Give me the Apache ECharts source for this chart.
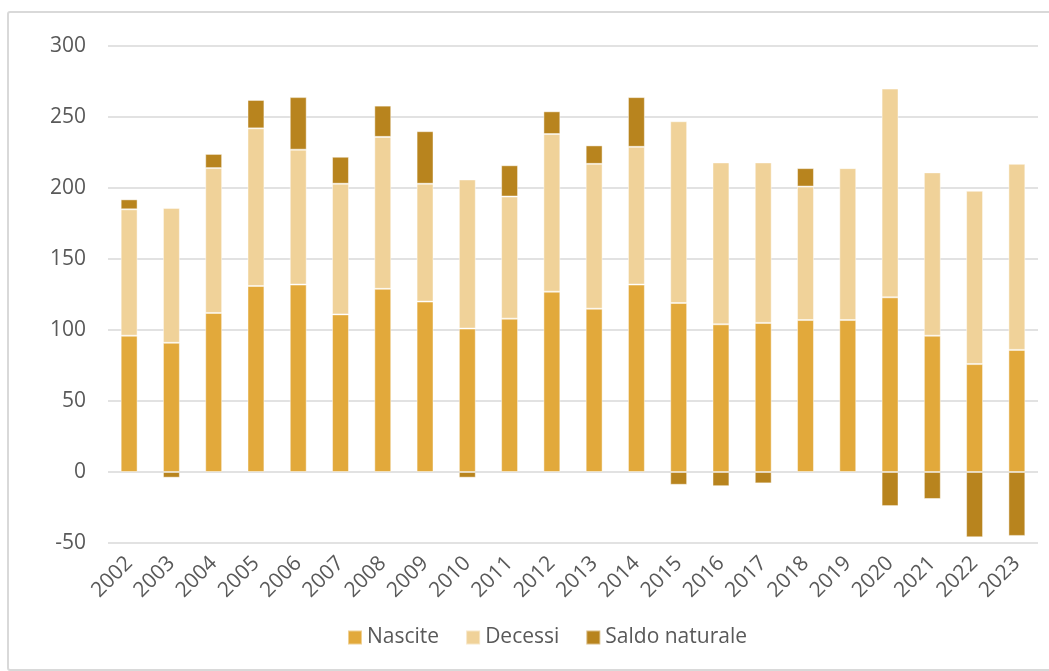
<!DOCTYPE html>
<html>
<head>
<meta charset="utf-8">
<script src="https://cdn.jsdelivr.net/npm/echarts@6/dist/echarts.min.js"></script>
<style>
html,body{margin:0;padding:0;background:#fff;}
#chart{width:1049px;height:671px;}
</style>
</head>
<body>
<div id="chart"></div>
<script>
const years = ['2002','2003','2004','2005','2006','2007','2008','2009','2010','2011','2012','2013','2014','2015','2016','2017','2018','2019','2020','2021','2022','2023'];
const nascite = [96, 91, 112, 131, 132, 111, 129, 120, 101, 108, 127, 115, 132, 119, 104, 105, 107, 107, 123, 96, 76, 86];
const decessi = [89, 95, 102, 111, 95, 92, 107, 83, 105, 86, 111, 102, 97, 128, 114, 113, 94, 107, 147, 115, 122, 131];
const saldoNaturale = [7, -4, 10, 20, 37, 19, 22, 37, -4, 22, 16, 13, 35, -9, -10, -8, 13, 0, -24, -19, -46, -45];
const yTicks = { min: -50, max: 300, interval: 50 };

const FONT = '"Open Sans", "Noto Sans", sans-serif';
const TXT = '#595959';
const itemBorder = { borderColor: 'rgba(255,255,255,0.45)', borderWidth: 1 };

const chart = echarts.init(document.getElementById('chart'));
chart.setOption({
  animation: false,
  backgroundColor: '#fff',
  textStyle: { fontFamily: FONT },
  graphic: [{
    type: 'rect', silent: true, z: -1,
    shape: { x: 8, y: 12, width: 1080, height: 658, r: 2 },
    style: { fill: 'none', stroke: '#D9D9D9', lineWidth: 2 }
  }],
  grid: { left: 108, right: 11, top: 46, bottom: 128, containLabel: false },
  legend: {
    top: 622, left: 342,
    itemWidth: 14, itemHeight: 14, itemGap: 26,
    icon: 'rect',
    textStyle: { fontSize: 21, color: TXT, fontFamily: FONT },
    data: ['Nascite', 'Decessi', 'Saldo naturale']
  },
  xAxis: {
    type: 'category', data: years,
    axisLine: { show: false, onZero: false },
    axisTick: { show: false },
    axisLabel: { rotate: 45, fontSize: 21, color: TXT, margin: 17, fontFamily: FONT, interval: 0 }
  },
  yAxis: {
    type: 'value', min: yTicks.min, max: yTicks.max, interval: yTicks.interval,
    axisLine: { show: false }, axisTick: { show: false },
    axisLabel: { fontSize: 21, color: TXT, margin: 22, fontFamily: FONT },
    splitLine: { lineStyle: { color: '#D9D9D9', width: 1.5 } }
  },
  series: [
    { name: 'Nascite', type: 'bar', stack: 'tot', barWidth: '40%', data: nascite,
      itemStyle: Object.assign({ color: '#E2A93B' }, itemBorder) },
    { name: 'Decessi', type: 'bar', stack: 'tot', data: decessi,
      itemStyle: Object.assign({ color: '#F0D299' }, itemBorder) },
    { name: 'Saldo naturale', type: 'bar', stack: 'tot', data: saldoNaturale,
      itemStyle: Object.assign({ color: '#B8841E' }, itemBorder) }
  ]
});
</script>
</body>
</html>
